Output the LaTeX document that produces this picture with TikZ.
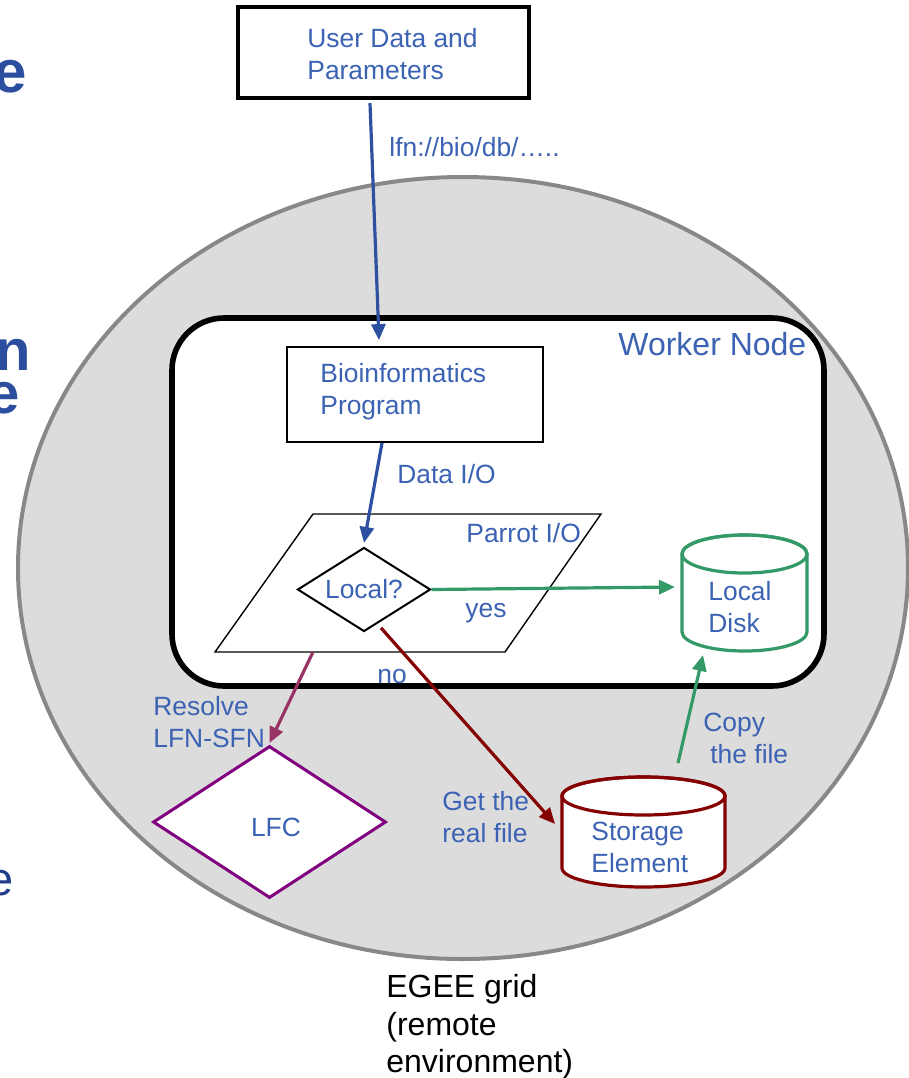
\documentclass[tikz,border=0pt]{standalone}
\usepackage{fontspec}
\setmainfont{Liberation Sans}
\usetikzlibrary{shapes.geometric,arrows.meta}
\definecolor{txtblue}{HTML}{3B62B3}
\definecolor{arrblue}{HTML}{2D51A0}
\definecolor{diskgreen}{HTML}{339966}
\definecolor{sered}{HTML}{850000}
\definecolor{plum}{HTML}{993366}
\definecolor{lfcpurple}{HTML}{800080}
\definecolor{gridfill}{HTML}{DCDCDC}
\definecolor{gridline}{HTML}{888888}
\definecolor{titleblue}{HTML}{2B4F9E}
\definecolor{bodyblue}{HTML}{1F3D8C}
\begin{document}
\begin{tikzpicture}[x=0.5pt,y=-0.5pt,
  lbl/.style={font=\fontsize{13.2}{16}\selectfont, text=txtblue, inner sep=0pt, align=left},
  flow/.style={line width=1.6pt, -{Triangle[length=8pt,width=7pt]}},
  plainbox/.style={draw, fill=white, inner sep=0pt},
  cylbox/.style={inner sep=0pt, outer sep=0pt},
  cut/.style={inner sep=0pt, anchor=base east, text=titleblue,
              font=\fontsize{30}{36}\selectfont\bfseries}
]
\useasboundingbox (0,0) rectangle (909,1078);
\clip (0,0) rectangle (909,1078);

% remote environment
\node[ellipse, draw=gridline, fill=gridfill, line width=2pt, inner sep=0pt,
      minimum width=445pt, minimum height=391pt] (grid) at (463,568) {};

% fragments of neighbouring slide text
\node[cut] (frag1) at (27,92) {e};
\node[cut, font=\fontsize{29}{34}\selectfont\bfseries] (frag2) at (31,370) {n};
\node[cut, font=\fontsize{29}{34}\selectfont\bfseries] (frag3) at (20,413) {e};
\node[cut, text=bodyblue, font=\fontsize{23.5}{28}\selectfont] (frag4) at (14,895) {e};

% worker node
\node[plainbox, line width=2.8pt, rounded corners=26pt,
      minimum width=326pt, minimum height=184pt] (wn) at (498,502) {};
\node[inner sep=0pt, anchor=base west, text=txtblue,
      font=\fontsize{16}{19}\selectfont] (wnlbl) at (618,355) {Worker Node};

% user input
\node[plainbox, line width=2.2pt, minimum width=145.5pt, minimum height=45.5pt] (user) at (383.5,52.5) {};
\node[lbl, anchor=north west] (userlbl) at (307,28) {User Data and\\Parameters};

% program
\node[plainbox, line width=0.9pt, minimum width=128pt, minimum height=47.5pt] (bio) at (415,394.5) {};
\node[lbl, anchor=north west] (biolbl) at (320,362.7) {Bioinformatics\\Program};

% Parrot I/O layer
\draw[line width=0.7pt, fill=white] (313,514) -- (601,514) -- (505,652) -- (215,652) -- cycle;
\coordinate (pbot) at (313,652);
\node[lbl, anchor=base west] (parrot) at (466,542) {Parrot I/O};

% decision
\node[diamond, aspect=1.6, draw, fill=white, line width=1pt, inner sep=0pt,
      minimum width=66.5pt, minimum height=42pt,
      font=\fontsize{13.2}{16}\selectfont, text=txtblue] (local) at (364,589.5) {Local?};

% local disk
\node[cylbox, minimum width=62.5pt, minimum height=58pt] (disk) at (744.5,593) {};
\draw[diskgreen, line width=1.6pt, fill=white]
  ([yshift=-9.5pt]disk.north west) -- ([yshift=9.5pt]disk.south west)
  arc[start angle=180, end angle=360, x radius=31.25pt, y radius=9.5pt]
  -- ([yshift=-9.5pt]disk.north east)
  arc[start angle=0, end angle=180, x radius=31.25pt, y radius=9.5pt] -- cycle;
\draw[diskgreen, line width=1.6pt] ([yshift=-9.5pt]disk.north) ellipse[x radius=31.25pt, y radius=9.5pt];
\node[lbl, anchor=north west] (disklbl) at (708,581) {Local\\Disk};

% storage element
\node[cylbox, minimum width=81.5pt, minimum height=55pt] (se) at (643.5,832) {};
\draw[sered, line width=1.6pt, fill=white]
  ([yshift=-9.5pt]se.north west) -- ([yshift=9.5pt]se.south west)
  arc[start angle=180, end angle=360, x radius=40.75pt, y radius=9.5pt]
  -- ([yshift=-9.5pt]se.north east)
  arc[start angle=0, end angle=180, x radius=40.75pt, y radius=9.5pt] -- cycle;
\draw[sered, line width=1.6pt] ([yshift=-9.5pt]se.north) ellipse[x radius=40.75pt, y radius=9.5pt];
\node[lbl, anchor=north west] (selbl) at (591,822) {Storage\\Element};

% file catalogue
\node[diamond, draw=lfcpurple, fill=white, line width=1.5pt, inner sep=0pt,
      minimum width=116.5pt, minimum height=76pt] (lfc) at (269.5,822) {};
\node[lbl, anchor=base] (lfclbl) at (276,836) {LFC};

% connectors
\draw[flow, arrblue] ([xshift=-6.75pt,yshift=-1.5pt]user.south) -- ([xshift=-18pt,yshift=3pt]bio.north);
\node[lbl, anchor=base west] (lfnlbl) at (389,156) {lfn://bio/db/…..};

\draw[flow, arrblue] ([xshift=-16.5pt]bio.south) -- ([yshift=1.8pt]local.north);
\node[lbl, anchor=base west] (dataio) at (397,483) {Data I/O};

\draw[flow, diskgreen] (local.east) -- ([xshift=-3.5pt,yshift=3pt]disk.west);
\node[lbl, anchor=base west] (yes) at (465,617) {yes};

\draw[flow, sered] ([xshift=8.5pt,yshift=2.3pt]local.south) -- ([xshift=-3.5pt,yshift=4pt]se.west);
\node[lbl, anchor=base west] (no) at (377,683) {no};
\node[lbl, anchor=north west] (getlbl) at (442,791) {Get the\\real file};

\draw[flow, plum] (pbot) -- ([yshift=0.75pt]lfc.north);
\node[lbl, anchor=north west] (reslbl) at (153,696) {Resolve\\LFN-SFN};

\draw[flow, diskgreen] ([xshift=17.25pt,yshift=7pt]se.north) -- ([xshift=-20.75pt,yshift=-2pt]disk.south);
\node[lbl, anchor=north west] (copylbl) at (703,713) {Copy\\\hspace*{3.5pt}the file};

% caption
\node[inner sep=0pt, anchor=north west, align=left,
      font=\fontsize{16}{18.75}\selectfont] (egee) at (386,974) {EGEE grid\\(remote\\environment)};
\end{tikzpicture}
\end{document}
